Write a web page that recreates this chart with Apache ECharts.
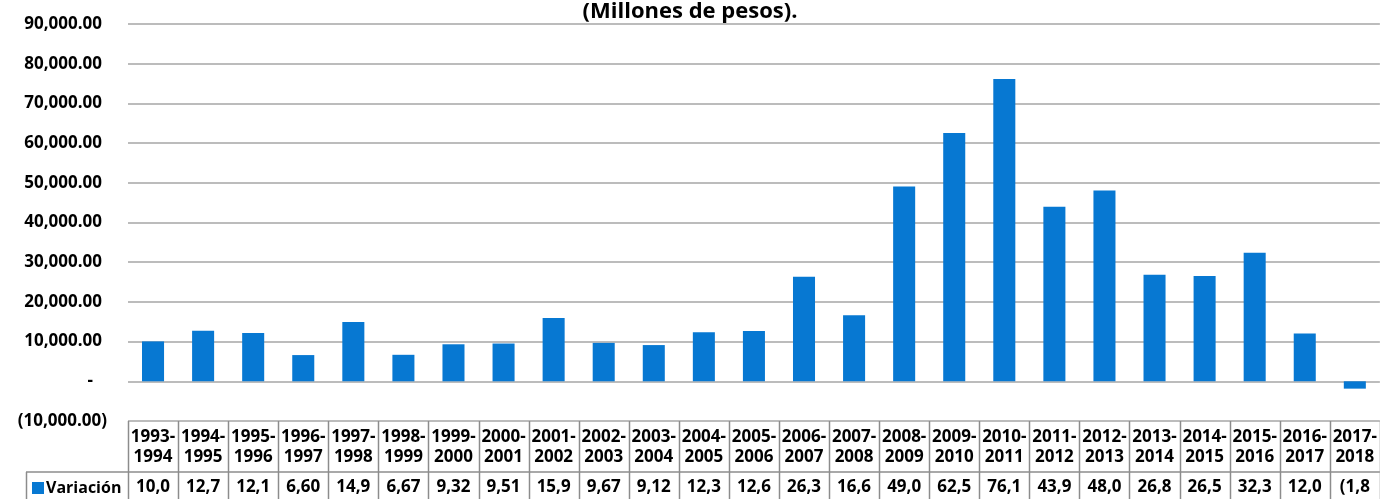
<!DOCTYPE html>
<html><head><meta charset="utf-8">
<script src="https://cdn.jsdelivr.net/npm/echarts@6/dist/echarts.min.js"></script>
<style>html,body{margin:0;padding:0;background:#fff}#c{width:1380px;height:499px}</style>
</head><body><div id="c"></div>
<script>
const titleText = '(Millones de pesos).';
const seriesName = 'Variación';
const categories = ['1993-1994','1994-1995','1995-1996','1996-1997','1997-1998','1998-1999','1999-2000','2000-2001','2001-2002','2002-2003','2003-2004','2004-2005','2005-2006','2006-2007','2007-2008','2008-2009','2009-2010','2010-2011','2011-2012','2012-2013','2013-2014','2014-2015','2015-2016','2016-2017','2017-2018'];
const values = [10050, 12750, 12150, 6605, 14950, 6675, 9325, 9515, 15950, 9675, 9125, 12350, 12650, 26350, 16650, 49050, 62550, 76150, 43950, 48050, 26850, 26550, 32350, 12050, -1850];
const yTicks = [-10000, 0, 10000, 20000, 30000, 40000, 50000, 60000, 70000, 80000, 90000];

const FONT = 'Open Sans';
const BLUE = '#0778d2';
function fmt(v){
  const s = Math.abs(v).toLocaleString('en-US',{minimumFractionDigits:2,maximumFractionDigits:2});
  return v < 0 ? '(' + s + ')' : s;
}
function cellText(v){ return fmt(v).slice(0,4); }

const chart = echarts.init(document.getElementById('c'));
const option = {
  animation:false,
  title:{text:titleText,left:'center',top:-4,textStyle:{fontFamily:FONT,fontWeight:'bold',fontSize:22,color:'#000'}},
  grid:{left:128,right:0,top:24,bottom:78,containLabel:false},
  xAxis:[{
    type:'category',data:categories,position:'bottom',
    axisLine:{show:false},axisTick:{show:false},
    axisLabel:{interval:0,margin:6,fontFamily:FONT,fontWeight:'bold',fontSize:17,color:'#000',lineHeight:20,
      formatter:(c)=>c.replace('-','-\n')}
  },{
    type:'category',data:categories,position:'bottom',
    axisLine:{show:false},axisTick:{show:false},
    axisLabel:{interval:0,margin:57,fontFamily:FONT,fontWeight:'bold',fontSize:17,color:'#000',lineHeight:18,
      formatter:(c)=>cellText(values[categories.indexOf(c)])}
  }],
  yAxis:{
    type:'value',min:yTicks[0],max:yTicks[yTicks.length-1],interval:10000,
    axisLine:{show:false},axisTick:{show:false},
    splitLine:{lineStyle:{color:'#a6a6a6',width:1.5}},
    axisLabel:{margin:21,fontFamily:FONT,fontWeight:'bold',fontSize:17,color:'#000',
      formatter:(v)=> v===0 ? '{d|-}' : (v<0 ? fmt(v) : '{p|'+fmt(v)+'}'),
      rich:{p:{fontFamily:FONT,fontWeight:'bold',fontSize:17,color:'#000',padding:[0,5,0,0]},
            d:{fontFamily:FONT,fontWeight:'bold',fontSize:17,color:'#000',padding:[0,14,0,0]}}}
  },
  series:[{name:seriesName,type:'bar',data:values,barWidth:'44%',itemStyle:{color:BLUE},xAxisIndex:0}]
};
chart.setOption(option);

// data table borders and legend key
const n = categories.length;
const x0 = chart.convertToPixel({xAxisIndex:0}, categories[0]);
const x1 = chart.convertToPixel({xAxisIndex:0}, categories[1]);
const bw = x1 - x0;
const leftEdge = x0 - bw/2;
const rightEdge = leftEdge + bw*n;
const yTop = chart.convertToPixel({yAxisIndex:0}, yTicks[0]);
const yMid = yTop + 51;
const yBot = 499;
const lc = '#8c8c8c';
const g = [];
for (let k=0;k<=n;k++){
  const x = Math.round(leftEdge + bw*k) + 0.5;
  g.push({type:'line',shape:{x1:x,y1:yTop,x2:x,y2:yBot},style:{stroke:lc,lineWidth:1.5}});
}
g.push({type:'line',shape:{x1:26,y1:yMid,x2:rightEdge,y2:yMid},style:{stroke:lc,lineWidth:1.5}});
g.push({type:'line',shape:{x1:26.5,y1:yMid,x2:26.5,y2:yBot},style:{stroke:lc,lineWidth:1.5}});
g.push({type:'rect',shape:{x:32,y:yMid+10,width:12,height:12},style:{fill:BLUE}});
g.push({type:'text',style:{text:seriesName,x:46,y:yMid+16,verticalAlign:'middle',font:'bold 16px "'+FONT+'"',fill:'#000'}});
chart.setOption({graphic:g});
</script></body></html>
